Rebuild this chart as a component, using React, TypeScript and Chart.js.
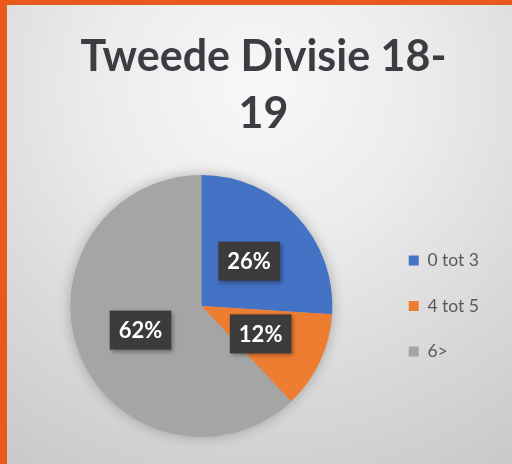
import React, { useEffect, useRef } from 'react';
import { Chart, registerables } from 'chart.js';

Chart.register(...registerables);

const categories: string[] = ['0 tot 3', '4 tot 5', '6>'];
const shares: number[] = [26, 12, 62];
const sliceColors: string[] = ['#4472C4', '#ED7D31', '#A5A5A5'];
const titleLines: string[] = ['Tweede Divisie 18-', '19'];

const TITLE_SHIFT_X = 8;

const pieShadow = {
  id: 'pieShadow',
  beforeDatasetsDraw(chart: any) {
    const arc = chart.getDatasetMeta(0).data[0];
    if (!arc) return;
    const { x, y, outerRadius } = arc.getProps(['x', 'y', 'outerRadius'], true);
    const ctx = chart.ctx;
    ctx.save();
    ctx.shadowColor = 'rgba(0,0,0,0.30)';
    ctx.shadowBlur = 14;
    ctx.fillStyle = '#A5A5A5';
    ctx.beginPath();
    ctx.arc(x, y, outerRadius - 1, 0, Math.PI * 2);
    ctx.fill();
    ctx.restore();
  },
};

const sliceLabels = {
  id: 'sliceLabels',
  afterDatasetsDraw(chart: any) {
    const ctx = chart.ctx;
    const meta = chart.getDatasetMeta(0);
    const values: number[] = chart.data.datasets[0].data;
    const total = values.reduce((a, b) => a + b, 0);
    meta.data.forEach((arc: any, i: number) => {
      const p = arc.getCenterPoint();
      const text = Math.round((values[i] / total) * 100) + '%';
      ctx.save();
      ctx.font = 'bold 22px Lato';
      const w = ctx.measureText(text).width + 18;
      const h = 39;
      ctx.shadowColor = 'rgba(0,0,0,0.35)';
      ctx.shadowBlur = 4;
      ctx.shadowOffsetX = 2;
      ctx.shadowOffsetY = 2;
      ctx.fillStyle = '#3b3b3b';
      ctx.fillRect(p.x - w / 2, p.y - h / 2, w, h);
      ctx.shadowColor = 'transparent';
      ctx.fillStyle = '#ffffff';
      ctx.textAlign = 'center';
      ctx.textBaseline = 'middle';
      ctx.fillText(text, p.x, p.y + 1);
      ctx.restore();
    });
  },
};

const titleShift = {
  id: 'titleShift',
  afterLayout(chart: any) {
    const t = chart.titleBlock;
    if (t) {
      t.left += TITLE_SHIFT_X;
      t.right += TITLE_SHIFT_X;
    }
  },
};

export default function App() {
  const canvasRef = useRef<HTMLCanvasElement | null>(null);

  useEffect(() => {
    if (!canvasRef.current) return;
    const chart = new Chart(canvasRef.current, {
      type: 'pie',
      data: {
        labels: categories,
        datasets: [
          {
            data: shares,
            backgroundColor: sliceColors,
            borderWidth: 0,
          },
        ],
      },
      options: {
        responsive: false,
        animation: false,
        layout: { padding: { left: 22, right: 23, top: 0, bottom: 27 } },
        plugins: {
          tooltip: { enabled: false },
          title: {
            display: true,
            text: titleLines,
            color: '#3c3c42',
            font: { family: 'Lato', size: 43, weight: 'bold', lineHeight: 1.337 },
            padding: { top: 28, bottom: 32 },
          },
          legend: {
            display: true,
            position: 'right',
            fullSize: false,
            labels: {
              boxWidth: 10,
              boxHeight: 10,
              padding: 28,
              color: '#595959',
              font: { family: 'Lato', size: 17.5 },
            },
          },
        },
      },
      plugins: [pieShadow, sliceLabels, titleShift],
    } as any);
    return () => chart.destroy();
  }, []);

  return (
    <div
      style={{
        position: 'fixed',
        left: 0,
        top: 0,
        width: 512,
        height: 464,
        background: '#E85A1C',
        overflow: 'hidden',
      }}
    >
      <div
        style={{
          position: 'absolute',
          left: 7,
          top: 5,
          width: 505,
          height: 459,
          background:
            'radial-gradient(ellipse 90% 95% at 50% 18%, #f8f8f8 0%, #ececec 35%, #d9d9d9 70%, #cacaca 100%)',
        }}
      />
      <canvas
        ref={canvasRef}
        width={512}
        height={464}
        style={{ position: 'absolute', left: 0, top: 0, width: 512, height: 464 }}
      />
    </div>
  );
}
